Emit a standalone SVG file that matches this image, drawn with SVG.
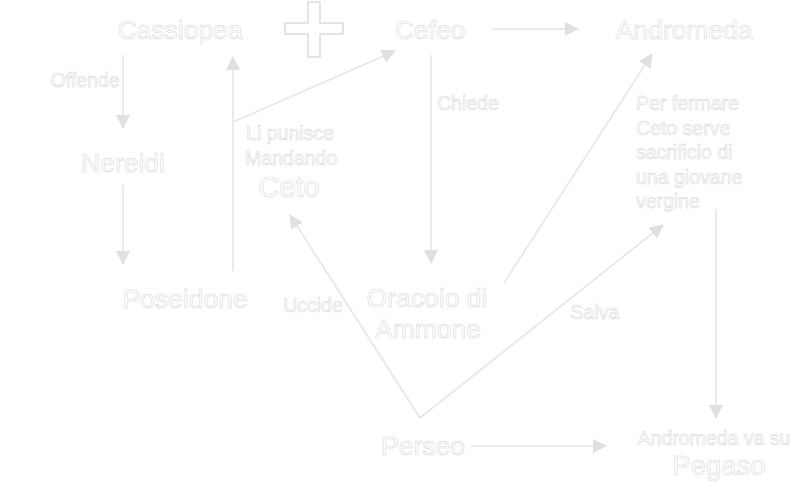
<svg xmlns="http://www.w3.org/2000/svg" width="808" height="503" viewBox="0 0 808 503">
<defs>
<style>
text{font-family:"Liberation Sans",Arial,sans-serif;fill:#fff;stroke:#d6d6d6;stroke-width:0.55}
.n{font-size:26.5px;text-anchor:middle}
.l{font-size:19.5px}
.c{text-anchor:middle}
.e{stroke:#e6e6e6;stroke-width:1.6;fill:none}
</style>
<marker id="ah" viewBox="0 0 14 14" refX="13" refY="7" markerWidth="14" markerHeight="14" markerUnits="userSpaceOnUse" orient="auto">
<path d="M0,0 L14,7 L0,14 Z" fill="#e0e0e0"/>
</marker>
</defs>
<rect width="808" height="503" fill="#fff"/>
<g id="connectors">
<line class="e" x1="123" y1="55" x2="123" y2="128" marker-end="url(#ah)"/>
<line class="e" x1="123" y1="185" x2="123" y2="264" marker-end="url(#ah)"/>
<line class="e" x1="233" y1="271" x2="233" y2="57" marker-end="url(#ah)"/>
<line class="e" x1="233" y1="122" x2="395" y2="51" marker-end="url(#ah)"/>
<line class="e" x1="492" y1="29" x2="578" y2="29" marker-end="url(#ah)"/>
<line class="e" x1="431" y1="55" x2="431" y2="263" marker-end="url(#ah)"/>
<line class="e" x1="504" y1="283" x2="652" y2="54" marker-end="url(#ah)"/>
<line class="e" x1="420" y1="418" x2="290" y2="215" marker-end="url(#ah)"/>
<line class="e" x1="420" y1="418" x2="663" y2="225" marker-end="url(#ah)"/>
<line class="e" x1="716" y1="209" x2="716" y2="418" marker-end="url(#ah)"/>
<line class="e" x1="471" y1="446" x2="606" y2="446" marker-end="url(#ah)"/>
</g>
<g id="cross">
<path d="M308,2 H320 V23 H343 V34 H320 V57 H308 V34 H285 V23 H308 Z" fill="#fff" stroke="#dcdcdc" stroke-width="1.5"/>
</g>
<g id="cassiopea"><text class="n" x="180" y="38.5">Cassiopea</text></g>
<g id="cefeo"><text class="n" x="430" y="38.5">Cefeo</text></g>
<g id="andromeda"><text class="n" x="684" y="38.5">Andromeda</text></g>
<g id="nereidi"><text class="n" x="123" y="171.5">Nereidi</text></g>
<g id="poseidone"><text class="n" x="185" y="307.5">Poseidone</text></g>
<g id="ceto"><text class="n" x="289" y="197" style="font-size:29px">Ceto</text></g>
<g id="oracolo"><text class="n" x="427" y="306.5">Oracolo di</text><text class="n" x="428" y="337.5">Ammone</text></g>
<g id="perseo"><text class="n" x="423" y="455">Perseo</text></g>
<g id="pegaso"><text class="l c" x="714" y="444.5">Andromeda va su</text><text class="n" x="719" y="475" style="font-size:27.5px">Pegaso</text></g>
<g id="sacrificio">
<text class="l" x="636" y="110">Per fermare</text>
<text class="l" x="636" y="134.5">Ceto serve</text>
<text class="l" x="636" y="159">sacrificio di</text>
<text class="l" x="636" y="183.5">una giovane</text>
<text class="l" x="636" y="208">vergine</text>
</g>
<g id="labels">
<text class="l c" x="85" y="87">Offende</text>
<text class="l" x="437" y="110">Chiede</text>
<text class="l c" x="290" y="140">Li punisce</text>
<text class="l c" x="291" y="165">Mandando</text>
<text class="l c" x="313" y="312">Uccide</text>
<text class="l c" x="595" y="319">Salva</text>
</g>
</svg>
